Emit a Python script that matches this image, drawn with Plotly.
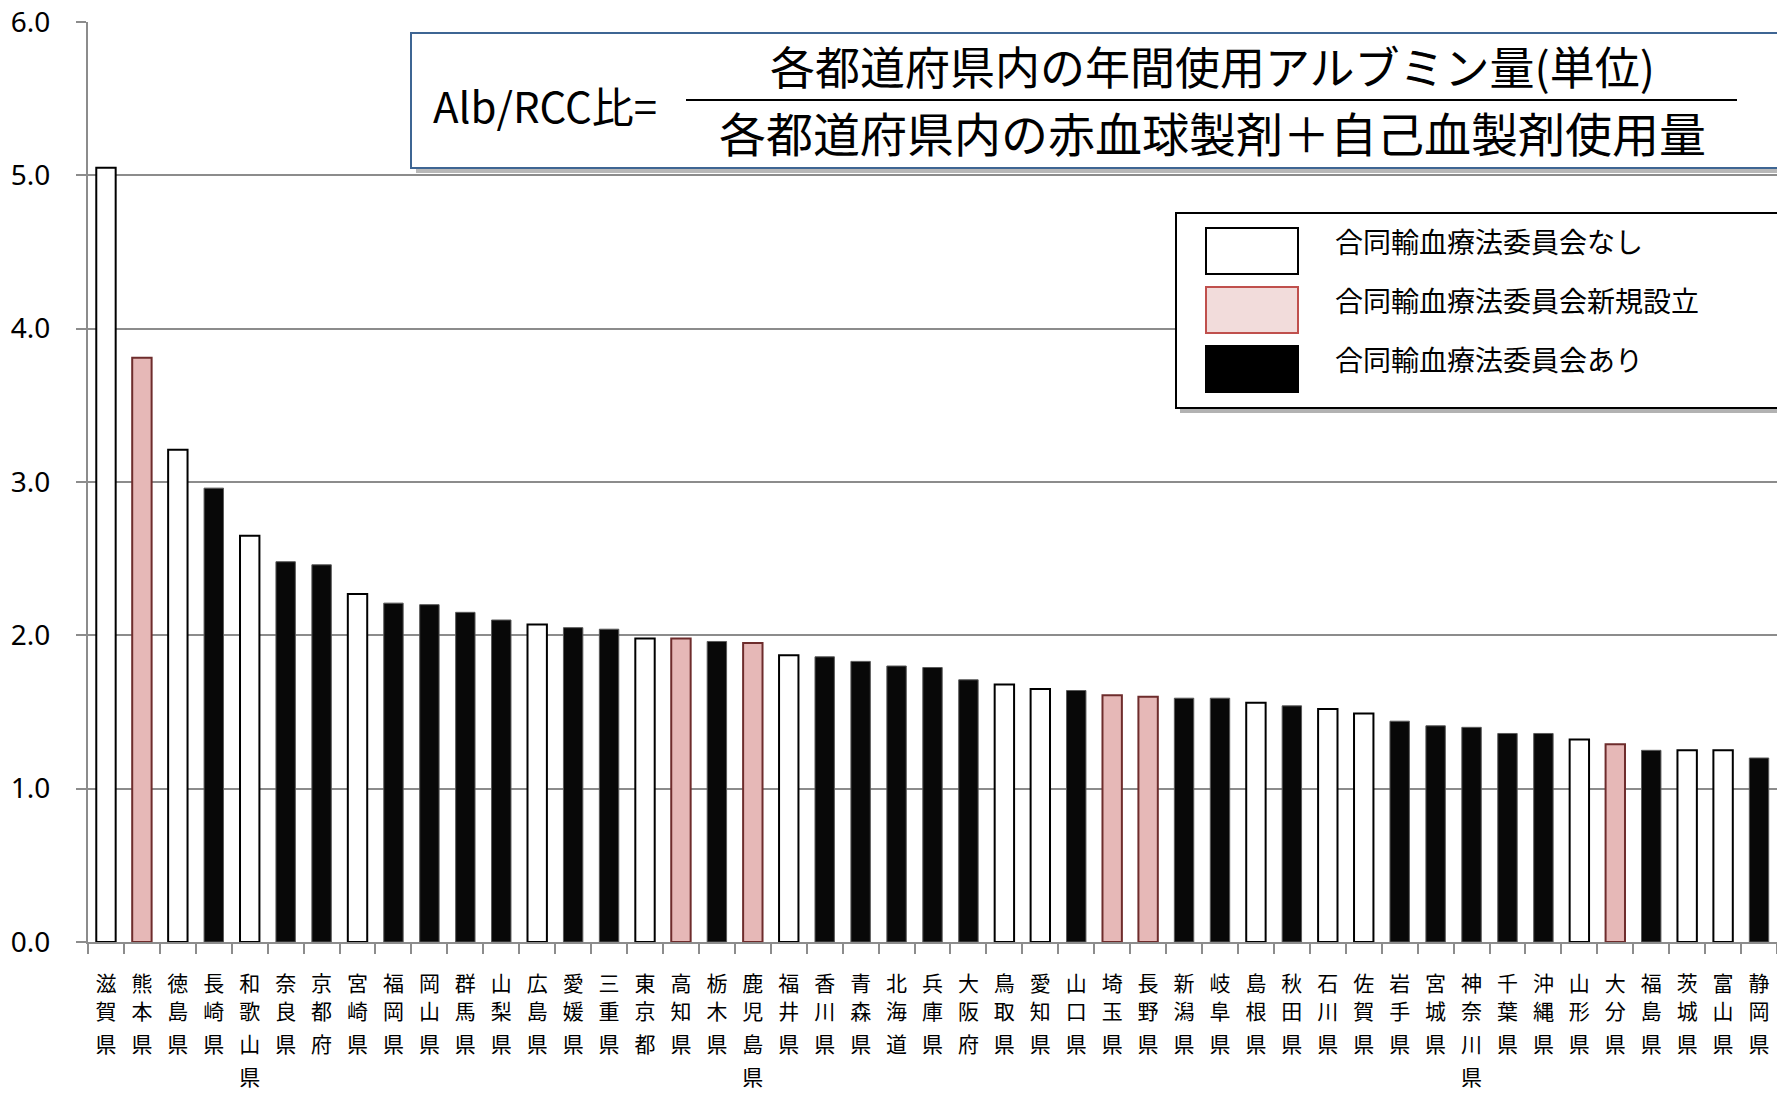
import plotly.graph_objects as go

# prefectures, sorted as in the source chart
prefs = ["滋賀県", "熊本県", "徳島県", "長崎県", "和歌山県", "奈良県", "京都府", "宮崎県",
         "福岡県", "岡山県", "群馬県", "山梨県", "広島県", "愛媛県", "三重県", "東京都",
         "高知県", "栃木県", "鹿児島県", "福井県", "香川県", "青森県", "北海道", "兵庫県",
         "大阪府", "鳥取県", "愛知県", "山口県", "埼玉県", "長野県", "新潟県", "岐阜県",
         "島根県", "秋田県", "石川県", "佐賀県", "岩手県", "宮城県", "神奈川県", "千葉県",
         "沖縄県", "山形県", "大分県", "福島県", "茨城県", "富山県", "静岡県"]
ratio = [5.05, 3.81, 3.21, 2.96, 2.65, 2.48, 2.46, 2.27,
         2.21, 2.20, 2.15, 2.10, 2.07, 2.05, 2.04, 1.98,
         1.98, 1.96, 1.95, 1.87, 1.86, 1.83, 1.80, 1.79,
         1.71, 1.68, 1.65, 1.64, 1.61, 1.60, 1.59, 1.59,
         1.56, 1.54, 1.52, 1.49, 1.44, 1.41, 1.40, 1.36,
         1.36, 1.32, 1.29, 1.25, 1.25, 1.25, 1.20]
# 0 = 委員会なし, 1 = 新規設立, 2 = 委員会あり
status = [0, 1, 0, 2, 0, 2, 2, 0,
          2, 2, 2, 2, 0, 2, 2, 0,
          1, 2, 1, 0, 2, 2, 2, 2,
          2, 0, 0, 2, 1, 1, 2, 2,
          0, 2, 0, 0, 2, 2, 2, 2,
          2, 0, 1, 2, 0, 0, 2]
legend_names = ["合同輸血療法委員会なし", "合同輸血療法委員会新規設立", "合同輸血療法委員会あり"]
y_ticks = [0, 1, 2, 3, 4, 5, 6]

FILL = ["#ffffff", "#e6b8b7", "#080808"]
EDGE = ["#000000", "#6e2c2c", "#5a5a5a"]
EDGE_W = [2, 2, 1]
GRID = "#8c8c8c"
JP = "Noto Sans CJK JP, sans-serif"

# page coords of the plot area (body margin is removed below)
W, H = 1777, 1093
L, R, T, B = 88, 1777, 22, 942


def px(x):
    return (x - L) / (R - L)


def py(y):
    return (B - y) / (B - T)


fig = go.Figure(go.Bar(
    x=prefs, y=ratio,
    marker=dict(color=[FILL[s] for s in status],
                line=dict(color=[EDGE[s] for s in status],
                          width=[EDGE_W[s] for s in status])),
    width=0.54, hoverinfo="x+y",
))

shapes = []
annos = []


def note(x, y, text, size, anchor="center"):
    annos.append(dict(x=px(x), y=py(y), xref="paper", yref="paper",
                      xanchor=anchor, yanchor="middle", text=text, showarrow=False,
                      font=dict(size=size, family=JP, color="black")))


def box(x0, y0, x1, y1, fill, edge, width):
    shapes.append(dict(type="rect", xref="paper", yref="paper", layer="above",
                       x0=px(x0), x1=px(x1), y0=py(y1), y1=py(y0),
                       fillcolor=fill, line=dict(color=edge, width=width)))


# formula box
box(416, 38, 1795, 173, "rgba(0,0,0,0.28)", "rgba(0,0,0,0)", 0)
box(411, 33, 1790, 168, "white", "#3e6593", 2)
shapes.append(dict(type="line", xref="paper", yref="paper", layer="above",
                   x0=px(686), x1=px(1737), y0=py(100), y1=py(100),
                   line=dict(color="black", width=2)))
note(431, 104, "Alb/RCC比=", 42, "left")
note(1212, 66, "各都道府県内の年間使用アルブミン量(単位)", 45)
note(1212, 132, "各都道府県内の赤血球製剤＋自己血製剤使用量", 47)

# legend box
box(1180, 217, 1795, 413, "rgba(0,0,0,0.3)", "rgba(0,0,0,0)", 0)
box(1176, 213, 1790, 408, "white", "black", 2)
legend_fill = ["#ffffff", "#f2dcdb", "#000000"]
legend_edge = ["#000000", "#c0504d", "#000000"]
for i, name in enumerate(legend_names):
    top = 228 + i * 59
    box(1206, top, 1298, top + 46, legend_fill[i], legend_edge[i], 2)
    note(1333, top + 13, name, 28, "left")

# vertical category labels: one overlaid x axis per character row
ROW_GAP = 33
FIRST = 22
n_rows = max(len(p) for p in prefs)
row_axes = {}
for r in range(1, n_rows):
    name = f"x{r + 1}"
    fig.add_trace(go.Scatter(x=prefs, y=ratio, mode="none", xaxis=name,
                             hoverinfo="skip", showlegend=False))
    row_axes[f"xaxis{r + 1}"] = dict(
        type="category", categoryorder="array", categoryarray=prefs,
        range=[-0.5, len(prefs) - 0.5], overlaying="x", anchor="y", side="bottom",
        tickmode="array", tickvals=prefs,
        ticktext=[p[r] if r < len(p) else "" for p in prefs],
        tickangle=0, automargin=False, showgrid=False, zeroline=False,
        ticks="", showline=False,
        tickfont=dict(size=21, family=JP, color="black"),
        ticklabelstandoff=FIRST + ROW_GAP * r,
    )

fig.update_layout(
    width=W, height=H,
    margin=dict(l=L, r=W - R, t=T, b=H - B),
    paper_bgcolor="white", plot_bgcolor="white",
    showlegend=False,
    shapes=shapes, annotations=annos,
    font=dict(family=JP, color="black"),
    xaxis=dict(
        type="category", categoryorder="array", categoryarray=prefs,
        range=[-0.5, len(prefs) - 0.5],
        tickmode="array", tickvals=prefs, ticktext=[p[0] for p in prefs],
        tickangle=0, automargin=False, showgrid=False, zeroline=False,
        tickson="boundaries", ticks="outside", ticklen=10, tickcolor=GRID, tickwidth=2,
        showline=True, linecolor=GRID, linewidth=2,
        tickfont=dict(size=21, family=JP, color="black"),
        ticklabelstandoff=FIRST,
    ),
    yaxis=dict(
        range=[0, 6], tickvals=y_ticks, tickformat=".1f", automargin=False,
        ticks="outside", ticklen=10, tickcolor=GRID, tickwidth=2,
        showline=True, linecolor=GRID, linewidth=2,
        showgrid=True, gridcolor=GRID, gridwidth=2, zeroline=False,
        ticklabelstandoff=20, ticklabeloverflow="allow",
        tickfont=dict(size=28, family="Noto Sans, sans-serif", color="black"),
    ),
    **row_axes,
)

fig.write_html("out.html", config={"displayModeBar": False},
               post_script="document.body.style.margin = '0';")
